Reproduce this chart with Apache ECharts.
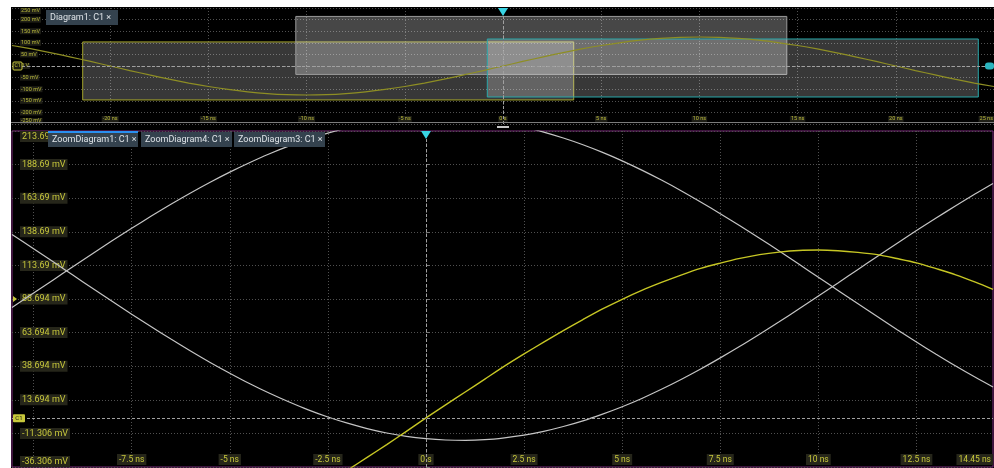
<!DOCTYPE html>
<html><head><meta charset="utf-8">
<script src="https://cdn.jsdelivr.net/npm/echarts@6/dist/echarts.min.js"></script>
<style>html,body{margin:0;padding:0;background:#fff}#c{width:994px;height:468px}</style>
</head><body><div id="c"></div>
<script>
// ---------- overview (Diagram1) ----------
const overviewTime = [-25,-24,-23,-22,-21,-20,-19,-18,-17,-16,-15,-14,-13,-12,-11,-10,-9,-8,-7,-6,-5,-4,-3,-2,-1,0,1,2,3,4,5,6,7,8,9,10,11,12,13,14,15,16,17,18,19,20,21,22,23,24,25];
const overviewC1 = [88.4,73.5,56.8,38.6,19.6,0,-19.6,-38.6,-56.8,-73.5,-88.4,-101.1,-111.4,-118.9,-123.5,-125,-123.5,-118.9,-111.4,-101.1,-88.4,-73.5,-56.8,-38.6,-19.6,0,19.6,38.6,56.8,73.5,88.4,101.1,111.4,118.9,123.5,125,123.5,118.9,111.4,101.1,88.4,73.5,56.8,38.6,19.6,0,-19.6,-38.6,-56.8,-73.5,-88.4];
const overviewXGrid = [-20,-15,-10,-5,0,5,10,15,20];
const overviewXLabels = [-20,-15,-10,-5,0,5,10,15,20,25];
const overviewYTicks = [-250,-200,-150,-100,-50,0,50,100,150,200,250];

// zoom windows shown as boxes on the overview
const windowNames = ['ZoomDiagram4','ZoomDiagram1','ZoomDiagram3'];
const windowStart = [-21.4,-10.55,-0.8];
const windowEnd = [3.6,14.45,24.2];
const windowLow = [-146.3,-36.306,-133.6];
const windowHigh = [103.7,213.694,116.4];

// ---------- zoom view (ZoomDiagram1 with overlays) ----------
const zoomTime = [-10.55,-10,-9.5,-9,-8.5,-8,-7.5,-7,-6.5,-6,-5.5,-5,-4.5,-4,-3.5,-3,-2.5,-2,-1.5,-1,-0.5,0,0.5,1,1.5,2,2.5,3,3.5,4,4.5,5,5.5,6,6.5,7,7.5,8,8.5,9,9.5,10,10.5,11,11.5,12,12.5,13,13.5,14,14.45];
const zoom1C1 = [-124.8,-125.0,-124.7,-123.5,-121.6,-118.9,-115.5,-111.4,-106.6,-101.1,-95.0,-88.4,-81.2,-73.5,-65.3,-56.8,-47.9,-38.6,-29.2,-19.6,-9.8,0.2,9.9,19.5,29.1,38.7,47.8,56.6,65.2,73.4,81.3,88.5,95.1,101.0,106.5,111.5,115.4,118.9,121.7,123.6,124.8,125.1,124.6,123.4,121.7,118.8,115.6,111.3,106.7,101.2,95.8];
const zoom4C1 = [136.7,126.1,116.4,106.5,96.7,87.0,77.4,68.1,58.9,50.0,41.5,33.5,25.8,18.7,12.2,6.2,0.9,-3.7,-7.7,-11.0,-13.5,-15.2,-16.2,-16.5,-16.0,-14.6,-12.6,-9.8,-6.2,-2.0,3.0,8.5,14.7,21.5,28.8,36.6,44.9,53.5,62.5,71.7,81.2,90.9,100.6,110.5,120.3,130.0,139.6,148.9,158.1,167.0,174.7];
const zoom3C1 = [82.4,93.1,102.9,112.7,122.4,132.0,141.3,150.4,159.2,167.6,175.6,183.1,190.1,196.6,202.4,207.6,212.1,215.9,219.0,221.4,223.0,223.9,223.9,223.2,221.8,219.6,216.6,212.9,208.5,203.5,197.8,191.5,184.6,177.2,169.3,160.9,152.2,143.2,133.9,124.4,114.7,104.9,95.1,85.3,75.6,66.0,56.7,47.6,38.8,30.4,23.2];
const zoomXGrid = [-10,-7.5,-5,-2.5,0,2.5,5,7.5,10,12.5];
const zoomXLabels = [-7.5,-5,-2.5,0,2.5,5,7.5,10,12.5,14.45];
const zoomYTicks = [-36.306,-11.306,13.694,38.694,63.694,88.694,113.694,138.694,163.694,188.694,213.694];
const triggerLevel = 88.694;

const F = 'Roboto,"Noto Sans",sans-serif';
const pair = (xs, ys) => xs.map((x, i) => [x, ys[i]]);
const fmtT = v => v === 0 ? '0 s' : v + ' ns';

const chart = echarts.init(document.getElementById('c'));
const boxColors = [
  {fill:'rgba(255,255,255,0.22)', border:'#a4a42a'},
  {fill:'rgba(255,255,255,0.28)', border:'#9a9a9a'},
  {fill:'rgba(255,255,255,0.22)', border:'#28a8aa'}
];
const gridDot = {color:'#505050', type:[1,2], width:1};
const centerLine = {color:'#a0a0a0', type:[3,2], width:1};

const option = {
  backgroundColor:'#000',
  animation:false,
  grid:[
    {left:12, top:8, width:982, height:116, outerBoundsMode:'none', show:false},
    {left:12, top:131, width:981, height:336, outerBoundsMode:'none', show:true, borderColor:'#7d2a7d', borderWidth:1, backgroundColor:'transparent'}
  ],
  xAxis:[
    {gridIndex:0, type:'value', min:-25, max:25,
     axisLine:{show:false}, axisTick:{show:false, customValues:overviewXGrid},
     splitLine:{show:true, lineStyle:gridDot},
     axisLabel:{inside:true, customValues:overviewXLabels, formatter:fmtT, fontFamily:F, fontSize:5.5,
       color:'#b8b83a', backgroundColor:'#1e1e16', padding:[0,1], margin:2, alignMaxLabel:'right'}},
    {gridIndex:1, type:'value', min:-10.55, max:14.45,
     axisLine:{show:false}, axisTick:{show:false, customValues:zoomXGrid},
     splitLine:{show:true, lineStyle:gridDot},
     axisLabel:{inside:true, customValues:zoomXLabels, formatter:fmtT, fontFamily:F, fontSize:8.5,
       color:'#c8c83c', backgroundColor:'#26261a', padding:[1,2], margin:2, alignMaxLabel:'right'}}
  ],
  yAxis:[
    {gridIndex:0, type:'value', min:-250, max:250,
     axisLine:{show:false}, axisTick:{show:false, customValues:overviewYTicks},
     splitLine:{show:true, lineStyle:gridDot},
     axisLabel:{inside:true, customValues:overviewYTicks, formatter:v => v === 0 ? '0 V' : v + ' mV',
       fontFamily:F, fontSize:5.5, color:'#b8b83a', backgroundColor:'#1e1e16', padding:[0,1], margin:8,
       verticalAlignMaxLabel:'top', verticalAlignMinLabel:'bottom'}},
    {gridIndex:1, type:'value', min:-36.306, max:213.694,
     axisLine:{show:false}, axisTick:{show:true, inside:true, length:4, lineStyle:{color:'#777'}, customValues:zoomYTicks},
     splitLine:{show:true, lineStyle:gridDot},
     axisLabel:{inside:true, customValues:zoomYTicks, formatter:v => v.toPrecision(5) + ' mV',
       fontFamily:F, fontSize:9, color:'#c8c83c', backgroundColor:'#26261a', padding:[1,2], margin:8,
       verticalAlignMaxLabel:'top', verticalAlignMinLabel:'bottom'}}
  ],
  series:[
    {name:'Diagram1: C1', type:'line', xAxisIndex:0, yAxisIndex:0, z:2, symbol:'none', smooth:0.3,
     lineStyle:{color:'#8e8e24', width:1.2}, data:pair(overviewTime, overviewC1),
     markLine:{silent:true, symbol:'none', label:{show:false}, lineStyle:centerLine,
       data:[{xAxis:0},{yAxis:0}]},
     markPoint:{silent:true, label:{show:false},
       data:[{coord:[0,250], symbol:'triangle', symbolRotate:180, symbolSize:[10,8], symbolOffset:[0,4], itemStyle:{color:'#38d4e4'}}]}},
    {name:'windows', type:'line', xAxisIndex:0, yAxisIndex:0, z:4, symbol:'none', data:[],
     markArea:{silent:true, label:{show:false},
       data:windowNames.map((n, i) => [
         {name:n, xAxis:windowStart[i], yAxis:windowHigh[i], itemStyle:{color:boxColors[i].fill, borderColor:boxColors[i].border, borderWidth:1}},
         {xAxis:windowEnd[i], yAxis:windowLow[i]}
       ])}},
    {name:'ZoomDiagram4: C1', type:'line', xAxisIndex:1, yAxisIndex:1, z:3, symbol:'none', smooth:0.3, clip:true,
     lineStyle:{color:'#c4c4c4', width:1.2}, data:pair(zoomTime, zoom4C1)},
    {name:'ZoomDiagram3: C1', type:'line', xAxisIndex:1, yAxisIndex:1, z:3, symbol:'none', smooth:0.3, clip:true,
     lineStyle:{color:'#c4c4c4', width:1.2}, data:pair(zoomTime, zoom3C1)},
    {name:'ZoomDiagram1: C1', type:'line', xAxisIndex:1, yAxisIndex:1, z:4, symbol:'none', smooth:0.3, clip:true,
     lineStyle:{color:'#c6c624', width:1.4}, data:pair(zoomTime, zoom1C1),
     markLine:{silent:true, symbol:'none', label:{show:false}, lineStyle:centerLine,
       data:[{xAxis:0},{yAxis:0}]},
     markPoint:{silent:true, label:{show:false},
       data:[
         {coord:[0,213.694], symbol:'triangle', symbolRotate:180, symbolSize:[10,8], symbolOffset:[0,4], itemStyle:{color:'#38d4e4'}},
         {coord:[-10.55,triggerLevel], symbol:'triangle', symbolRotate:-90, symbolSize:[6,4], symbolOffset:[3,0], itemStyle:{color:'#c8c83c'}}
       ]}}
  ]
};
chart.setOption(option);

// chrome: tabs, channel tags, separators
const p0 = chart.convertToPixel({xAxisIndex:0, yAxisIndex:0}, [-25, 0]);
const p0r = chart.convertToPixel({xAxisIndex:0, yAxisIndex:0}, [25, 0]);
const p1 = chart.convertToPixel({xAxisIndex:1, yAxisIndex:1}, [-10.55, 0]);
const p1c = chart.convertToPixel({xAxisIndex:0, yAxisIndex:0}, [0, -250]);
function tab(x, y, w, label, active) {
  const els = [
    {type:'rect', shape:{x:x, y:y, width:w, height:15}, style:{fill:'#34424e'}, z:100},
    {type:'text', x:x + 4, y:y + 7.5, style:{text:label, fill:'#dfe4e8', font:'9px ' + F, verticalAlign:'middle'}, z:101}
  ];
  if (active) els.push({type:'rect', shape:{x:x, y:y - 1, width:w, height:2}, style:{fill:'#2a8ff0'}, z:102});
  return els;
}
const graphics = [
  {type:'rect', shape:{x:0, y:0, width:11, height:468}, style:{fill:'#fff'}, z:200},
  {type:'rect', shape:{x:0, y:0, width:994, height:7}, style:{fill:'#fff'}, z:200},
  {type:'rect', shape:{x:11, y:122, width:983, height:1}, style:{fill:'#7c7c7c'}, z:100},
  {type:'rect', shape:{x:p1c[0] - 6, y:126, width:12, height:2}, style:{fill:'#c8c8c8'}, z:100},
  ...tab(46, 10, 72, 'Diagram1: C1 ×', false),
  ...tab(48, 132, 90, 'ZoomDiagram1: C1 ×', true),
  ...tab(141, 132, 91, 'ZoomDiagram4: C1 ×', false),
  ...tab(234, 132, 91, 'ZoomDiagram3: C1 ×', false),
  // channel ground tags
  {type:'rect', shape:{x:p0[0] + 1, y:p0[1] - 4, width:9, height:8, r:1}, style:{fill:'#1c1c10', stroke:'#c8c83c', lineWidth:1}, z:110},
  {type:'text', x:p0[0] + 5.5, y:p0[1], style:{text:'C1', fill:'#c8c83c', font:'5px ' + F, align:'center', verticalAlign:'middle'}, z:111},
  {type:'rect', shape:{x:p0r[0] - 9, y:p0r[1] - 3.5, width:9, height:7, r:3}, style:{fill:'#2ab4be'}, z:110},
  {type:'rect', shape:{x:p1[0] + 1, y:p1[1] - 4, width:12, height:8, r:1}, style:{fill:'#c8c83c'}, z:110},
  {type:'text', x:p1[0] + 7, y:p1[1], style:{text:'C1', fill:'#1c1c10', font:'6px ' + F, align:'center', verticalAlign:'middle'}, z:111}
];
chart.setOption({graphic:graphics});
</script></body></html>
